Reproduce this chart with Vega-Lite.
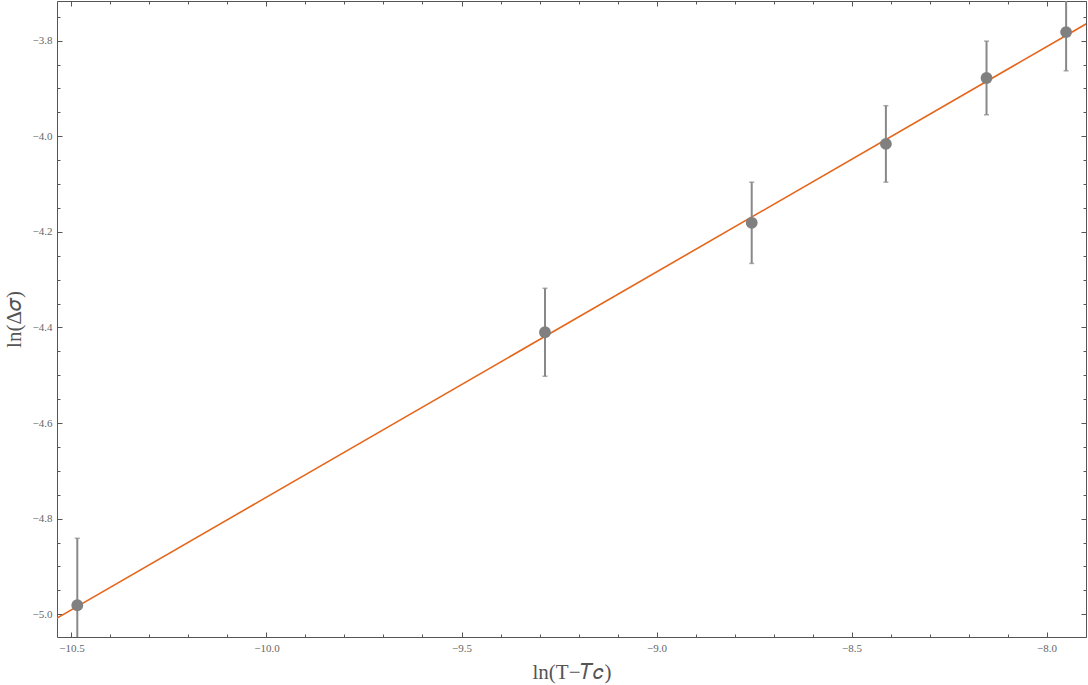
{
  "$schema": "https://vega.github.io/schema/vega-lite/v6.json",
  "width": 1029,
  "height": 636,
  "autosize": {"type": "none"},
  "padding": {"left": 57, "top": 1, "right": 2, "bottom": 48},
  "background": "white",
  "config": {
    "view": {"stroke": "#555555", "strokeWidth": 1},
    "axis": {
      "domain": false,
      "grid": false,
      "tickColor": "#555555",
      "tickWidth": 1,
      "labelFont": "Liberation Serif",
      "labelFontSize": 11,
      "labelColor": "#666666",
      "titleFont": "Liberation Serif",
      "titleFontWeight": "normal",
      "titleColor": "#555555",
      "titleFontSize": 21
    }
  },
  "datasets": {
    "pts": [
      {"x": -10.485, "y": -4.981, "lo": -5.121, "hi": -4.841},
      {"x": -9.286, "y": -4.410, "lo": -4.502, "hi": -4.318},
      {"x": -8.756, "y": -4.181, "lo": -4.266, "hi": -4.096},
      {"x": -8.412, "y": -4.016, "lo": -4.096, "hi": -3.936},
      {"x": -8.154, "y": -3.878, "lo": -3.955, "hi": -3.801},
      {"x": -7.950, "y": -3.782, "lo": -3.863, "hi": -3.701}
    ],
    "fit": [
      {"x": -10.6, "y": -5.0377},
      {"x": -7.85, "y": -3.742}
    ]
  },
  "resolve": {"axis": {"x": "independent", "y": "independent"}},
  "layer": [
    {
      "data": {"name": "fit"},
      "mark": {"type": "line", "color": "#E5661A", "strokeWidth": 1.6, "clip": true},
      "encoding": {
        "x": {"field": "x", "type": "quantitative",
              "scale": {"domain": [-10.537, -7.899], "nice": false, "zero": false},
              "axis": {"orient": "bottom", "title": "ln(T−𝑇𝑐)", "titlePadding": 8,
                       "values": [-10.5, -10.0, -9.5, -9.0, -8.5, -8.0],
                       "format": ".1f", "tickSize": -5, "labelPadding": 10}},
        "y": {"field": "y", "type": "quantitative",
              "scale": {"domain": [-5.0475, -3.717], "nice": false, "zero": false},
              "axis": {"orient": "left", "title": "ln(Δ𝜎)", "titlePadding": 8,
                       "values": [-5.0, -4.8, -4.6, -4.4, -4.2, -4.0, -3.8],
                       "format": ".1f", "tickSize": -5, "labelPadding": 10}}
      }
    },
    {
      "data": {"name": "pts"},
      "mark": {"type": "rule", "color": "#888888", "strokeWidth": 2, "clip": true},
      "encoding": {
        "x": {"field": "x", "type": "quantitative",
              "axis": {"orient": "bottom", "title": null, "labels": false, "tickSize": -3,
                       "values": [-10.5, -10.4, -10.3, -10.2, -10.1, -10.0, -9.9, -9.8, -9.7, -9.6, -9.5, -9.4, -9.3, -9.2, -9.1, -9.0, -8.9, -8.8, -8.7, -8.6, -8.5, -8.4, -8.3, -8.2, -8.1, -8.0, -7.9]}},
        "y": {"field": "lo", "type": "quantitative",
              "axis": {"orient": "left", "title": null, "labels": false, "tickSize": -3,
                       "values": [-5.0, -4.95, -4.9, -4.85, -4.8, -4.75, -4.7, -4.65, -4.6, -4.55, -4.5, -4.45, -4.4, -4.35, -4.3, -4.25, -4.2, -4.15, -4.1, -4.05, -4.0, -3.95, -3.9, -3.85, -3.8, -3.75]}},
        "y2": {"field": "hi"}
      }
    },
    {
      "data": {"name": "pts"},
      "mark": {"type": "tick", "orient": "horizontal", "color": "#888888", "size": 5, "thickness": 1.5, "clip": true},
      "encoding": {
        "x": {"field": "x", "type": "quantitative",
              "axis": {"orient": "top", "title": null, "labels": false, "tickSize": -5,
                       "values": [-10.5, -10.0, -9.5, -9.0, -8.5, -8.0]}},
        "y": {"field": "lo", "type": "quantitative",
              "axis": {"orient": "right", "title": null, "labels": false, "tickSize": -5,
                       "values": [-5.0, -4.8, -4.6, -4.4, -4.2, -4.0, -3.8]}}
      }
    },
    {
      "data": {"name": "pts"},
      "mark": {"type": "tick", "orient": "horizontal", "color": "#888888", "size": 5, "thickness": 1.5, "clip": true},
      "encoding": {
        "x": {"field": "x", "type": "quantitative",
              "axis": {"orient": "top", "title": null, "labels": false, "tickSize": -3,
                       "values": [-10.5, -10.4, -10.3, -10.2, -10.1, -10.0, -9.9, -9.8, -9.7, -9.6, -9.5, -9.4, -9.3, -9.2, -9.1, -9.0, -8.9, -8.8, -8.7, -8.6, -8.5, -8.4, -8.3, -8.2, -8.1, -8.0, -7.9]}},
        "y": {"field": "hi", "type": "quantitative",
              "axis": {"orient": "right", "title": null, "labels": false, "tickSize": -3,
                       "values": [-5.0, -4.95, -4.9, -4.85, -4.8, -4.75, -4.7, -4.65, -4.6, -4.55, -4.5, -4.45, -4.4, -4.35, -4.3, -4.25, -4.2, -4.15, -4.1, -4.05, -4.0, -3.95, -3.9, -3.85, -3.8, -3.75]}}
      }
    },
    {
      "data": {"name": "pts"},
      "mark": {"type": "circle", "color": "#808080", "opacity": 1, "size": 140, "clip": true},
      "encoding": {
        "x": {"field": "x", "type": "quantitative", "axis": null},
        "y": {"field": "y", "type": "quantitative", "axis": null}
      }
    }
  ]
}
